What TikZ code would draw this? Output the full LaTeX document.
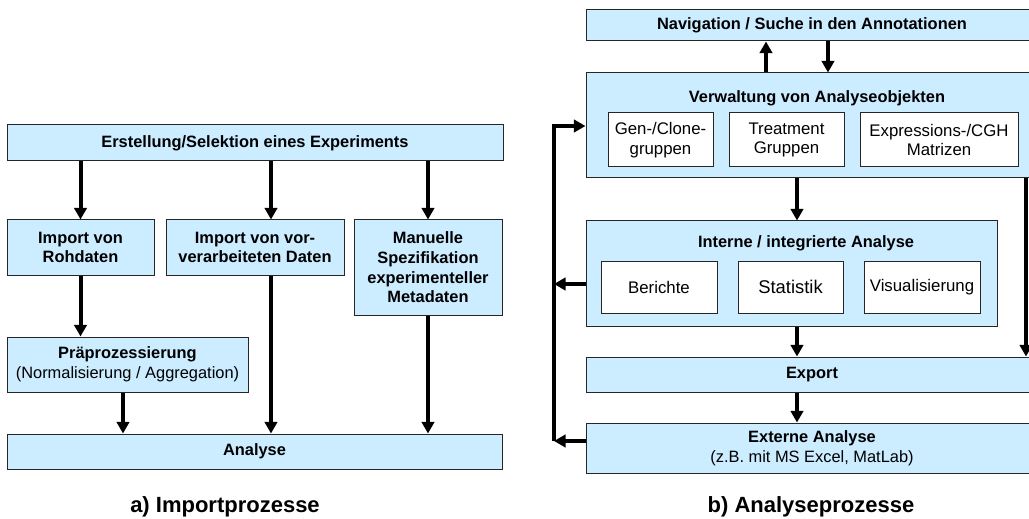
\documentclass[tikz,border=0pt]{standalone}
\usepackage{fontspec}
\setmainfont{Liberation Sans}
\usetikzlibrary{arrows.meta,positioning}
\definecolor{boxblue}{RGB}{204,236,255}

\begin{document}
\begin{tikzpicture}[x=0.5pt,y=-0.5pt,
  box/.style={draw=black!85,line width=0.5pt,fill=boxblue,inner sep=0pt,align=center,
    font=\fontsize{8.2}{9.8}\selectfont\bfseries},
  subbox/.style={draw=black!85,line width=0.5pt,fill=white,inner sep=0pt,align=center,
    font=\fontsize{8.4}{9.8}\selectfont},
  title/.style={anchor=base,inner sep=0pt,font=\fontsize{8.2}{9.8}\selectfont\bfseries},
  caption/.style={inner sep=0pt,font=\fontsize{11}{12}\selectfont\bfseries},
  arr/.style={line width=2pt,-{Triangle[length=5.8pt,width=6.2pt]}}]
\useasboundingbox (0,0) rectangle (1029,519);

% a) Importprozesse
\node[box,minimum width=248pt,minimum height=18pt] (erst) at (255,143) {Erstellung/Selektion eines Experiments};
\node[box,minimum width=73.5pt,minimum height=27.5pt] (roh) at (80.5,247.5) {Import von\\Rohdaten};
\node[box,minimum width=89pt,minimum height=27.5pt] (vor) at (255,247.5) {Import von vor-\\verarbeiteten Daten};
\node[box,minimum width=74pt,minimum height=47.5pt] (man) at (428,267.5) {Manuelle\\Spezifikation\\experimenteller\\Metadaten};
\node[box,minimum width=120.5pt,minimum height=27.5pt] (prae) at (127.5,364.5)
  {Präprozessierung\\{\mdseries(Normalisierung / Aggregation)}};
\node[box,minimum width=247.5pt,minimum height=17.5pt] (ana) at (254.5,451.5) {Analyse};
\node[caption] (capa) at (225,507) {a) Importprozesse};

\coordinate (c1) at (271,0);
\coordinate (c2) at (123,0);

\draw[arr] (erst.south -| roh) -- (roh.north);
\draw[arr] (erst.south -| c1) -- (vor.north -| c1);
\draw[arr] (erst.south -| man) -- (man.north);
\draw[arr] (roh.south) -- (prae.north -| roh);
\draw[arr] (prae.south -| c2) -- (ana.north -| c2);
\draw[arr] (vor.south -| c1) -- (ana.north -| c1);
\draw[arr] (man.south) -- (ana.north -| man);

% b) Analyseprozesse
\node[box,minimum width=226pt,minimum height=15.5pt] (nav) at (812,25.5) {Navigation / Suche in den Annotationen};
\node[box,minimum width=226pt,minimum height=52.5pt] (verw) at (812,125.5) {};
\node[title] at (817,102.5) {Verwaltung von Analyseobjekten};
\node[subbox,minimum width=52.5pt,minimum height=27pt] (gen) at (660.5,140) {Gen-/Clone-\\gruppen};
\node[subbox,minimum width=57.5pt,minimum height=27pt] (treat) at (786.5,140) {Treatment\\Gruppen};
\node[subbox,minimum width=79pt,minimum height=27pt] (expr) at (939,140) {Expressions-/CGH\\Matrizen};

\node[box,minimum width=205.5pt,minimum height=52.5pt] (inte) at (791.5,273.5) {};
\node[title] at (806,247.5) {Interne / integrierte Analyse};
\node[subbox,minimum width=58pt,minimum height=26pt] (ber) at (659,287) {Berichte};
\node[subbox,minimum width=52.5pt,minimum height=26pt,font=\fontsize{9.2}{10}\selectfont] (stat) at (790.5,287) {Statistik};
\node[subbox,minimum width=58pt,minimum height=26pt] (vis) at (922,287) {Visualisierung};

\node[box,minimum width=226pt,minimum height=17.5pt] (exp) at (812,374.5) {Export};
\node[box,minimum width=226pt,minimum height=25pt] (ext) at (812,448)
  {Externe Analyse\\{\mdseries(z.B. mit MS Excel, MatLab)}};
\node[caption] (capb) at (811,507) {b) Analyseprozesse};

\coordinate (c3) at (797,0);
\coordinate (c4) at (766,0);
\coordinate (c5) at (828,0);
\coordinate (c6) at (1026,0);
\coordinate (fb1) at (554,441);
\coordinate (fb2) at (554,284);
\coordinate (fb3) at (554,126);

\draw[arr] (verw.north -| c4) -- (nav.south -| c4);
\draw[arr] (nav.south -| c5) -- (verw.north -| c5);
\draw[arr] (verw.south -| c3) -- (inte.north -| c3);
\draw[arr] (inte.south -| c3) -- (exp.north -| c3);
\draw[arr] (exp.south -| c3) -- (ext.north -| c3);
\draw[arr] (verw.south -| c6) -- (exp.north -| c6);
\draw[arr] (ext.west |- fb1) -- (fb1);
\draw[arr] (inte.west |- fb2) -- (fb2);
\draw[arr] (fb1) -- (fb3) -- (verw.west |- fb3);

\end{tikzpicture}
\end{document}
